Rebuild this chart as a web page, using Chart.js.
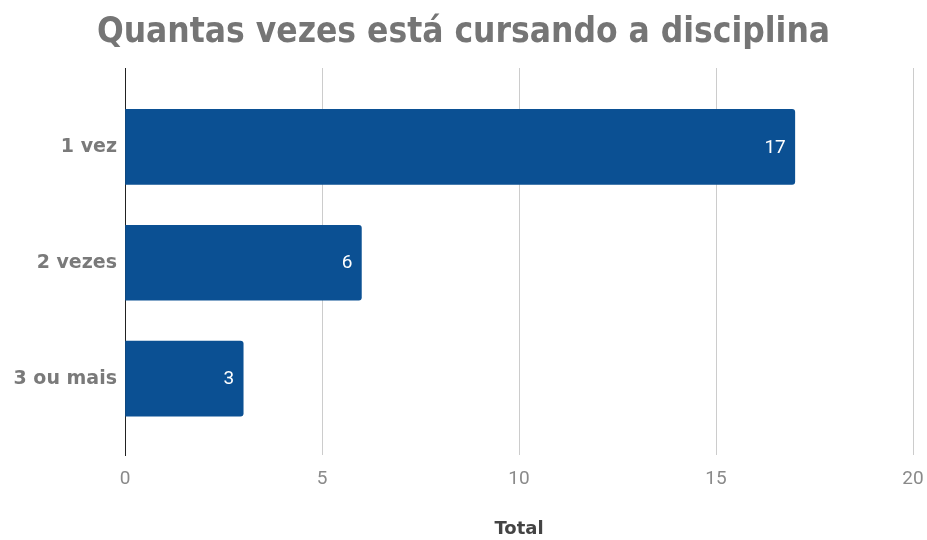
<!DOCTYPE html>
<html><head><meta charset="utf-8">
<script src="https://cdn.jsdelivr.net/npm/chart.js@4/dist/chart.umd.min.js"></script>
<style>html,body{margin:0;padding:0;background:#fff}#wrap{width:927px;height:540px}</style>
</head><body><div id="wrap"><canvas id="c" width="927" height="540"></canvas></div>
<script>
const chartTitle = 'Quantas vezes está cursando a disciplina';
const categories = ['1 vez', '2 vezes', '3 ou mais'];
const totals = [17, 6, 3];
const xTicks = [0, 5, 10, 15, 20];
const axisTitle = 'Total';

const barLabels = {
  id: 'barLabels',
  afterDatasetsDraw(chart) {
    const ctx = chart.ctx;
    const meta = chart.getDatasetMeta(0);
    ctx.save();
    ctx.font = '19px Roboto';
    ctx.fillStyle = '#ffffff';
    ctx.textAlign = 'right';
    ctx.textBaseline = 'middle';
    meta.data.forEach((el, i) => {
      ctx.fillText(String(totals[i]), el.x - 9, el.y + 1);
    });
    ctx.restore();
  }
};

new Chart(document.getElementById('c'), {
  type: 'bar',
  data: {
    datasets: [{
      data: categories.map((c, i) => ({ x: totals[i], y: i })),
      backgroundColor: '#0b5093',
      borderRadius: 3,
      borderSkipped: 'start',
      barThickness: 75
    }]
  },
  options: {
    indexAxis: 'y',
    responsive: false,
    animation: false,
    devicePixelRatio: 1,
    layout: { padding: { left: 0, right: 0, top: 0, bottom: 0 } },
    plugins: {
      legend: { display: false },
      tooltip: { enabled: false },
      title: {
        display: true,
        text: chartTitle,
        color: '#757575',
        font: { family: 'DejaVu Sans Condensed', weight: 'bold', size: 35 },
        padding: { top: 12, bottom: 14 }
      }
    },
    scales: {
      x: {
        type: 'linear',
        min: 0, max: 20,
        afterBuildTicks: s => { s.ticks = xTicks.map(v => ({ value: v })); },
        afterFit: s => { s.paddingRight = 14; s.paddingLeft = 0; },
        ticks: { color: '#8a8a8a', font: { family: 'Roboto', size: 19 }, padding: 13 },
        grid: { color: ctx => ctx.tick && ctx.tick.value === 0 ? '#222' : '#cccccc', drawTicks: false },
        border: { display: false },
        title: {
          display: true, text: axisTitle, color: '#444',
          font: { family: 'DejaVu Sans', weight: 'bold', size: 18 },
          padding: { top: 14.5, bottom: 0 }
        }
      },
      y: {
        type: 'linear',
        reverse: true,
        offset: false,
        min: -0.68, max: 2.66,
        afterBuildTicks: s => { s.ticks = categories.map((c, i) => ({ value: i })); },
        ticks: {
          callback: v => categories[v] !== undefined ? categories[v] : '',
          color: '#7a7a7a',
          font: { family: 'DejaVu Sans', weight: 'bold', size: 19 },
          padding: 8
        },
        afterFit: s => { s.width = 125; },
        grid: { display: false, drawTicks: false },
        border: { display: true, color: '#222', width: 1 }
      }
    }
  },
  plugins: [barLabels]
});
</script>
</body></html>
